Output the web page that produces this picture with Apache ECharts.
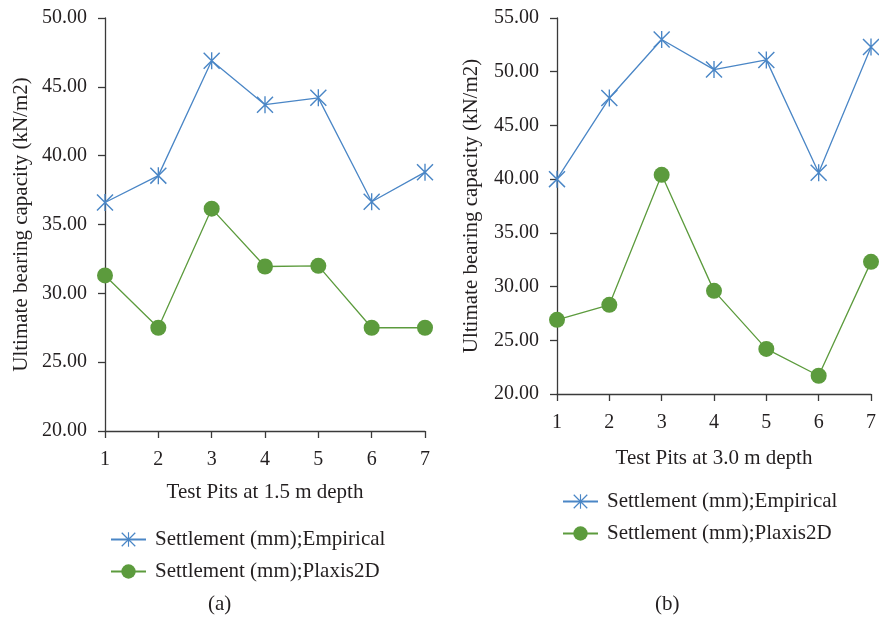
<!DOCTYPE html>
<html>
<head>
<meta charset="utf-8">
<script src="https://cdn.jsdelivr.net/npm/echarts@6/dist/echarts.min.js"></script>
<style>
  html, body { margin: 0; padding: 0; background: #ffffff; }
  #chart { width: 879px; height: 618px; }
</style>
</head>
<body>
<div id="chart"></div>
<script>
// Test pit numbers along the horizontal axis
const pits = ['1', '2', '3', '4', '5', '6', '7'];

// (a) pits at 1.5 m depth
const empiricalA = [36.6, 38.55, 46.9, 43.7, 44.2, 36.65, 38.8];
const plaxisA = [31.3, 27.5, 36.15, 31.95, 32.0, 27.5, 27.5];

// (b) pits at 3.0 m depth
const empiricalB = [40.0, 47.55, 53.0, 50.2, 51.1, 40.6, 52.3];
const plaxisB = [26.9, 28.3, 40.4, 29.6, 24.2, 21.7, 32.3];

// value-axis ranges and step
const yRangeA = [20, 50];
const yRangeB = [20, 55];
const yStep = 5;

const seriesNames = ['Settlement (mm);Empirical', 'Settlement (mm);Plaxis2D'];
const panelLabels = ['(a)', '(b)'];
const xTitles = ['Test Pits at 1.5 m depth', 'Test Pits at 3.0 m depth'];
const yTitle = 'Ultimate bearing capacity (kN/m2)';

const BLUE = '#4a86c6';
const GREEN = '#5c9b3d';
const INK = '#231f20';
const AXIS = '#3a3a3a';
const FONT = 'Liberation Serif';

// asterisk marker: vertical bar plus two diagonals
const STAR = 'path://M46 0H54V100H46Z M0 6L6 0L100 94L94 100Z M94 0L100 6L6 100L0 94Z';

function xAxisFor(gridIndex, title, gap) {
  return {
    type: 'category',
    gridIndex: gridIndex,
    data: pits,
    boundaryGap: false,
    name: title,
    nameLocation: 'middle',
    nameGap: gap,
    nameTextStyle: { fontFamily: FONT, fontSize: 21, color: INK },
    axisLine: { lineStyle: { color: AXIS, width: 1.3 } },
    axisTick: { length: 7, lineStyle: { color: AXIS, width: 1.3 } },
    axisLabel: { fontFamily: FONT, fontSize: 20, color: INK, margin: 19 },
    splitLine: { show: false }
  };
}

function yAxisFor(gridIndex, range, gap) {
  return {
    type: 'value',
    gridIndex: gridIndex,
    min: range[0],
    max: range[1],
    interval: yStep,
    name: yTitle,
    nameLocation: 'middle',
    nameRotate: 90,
    nameGap: gap,
    nameTextStyle: { fontFamily: FONT, fontSize: 21, color: INK },
    axisLine: { show: true, lineStyle: { color: AXIS, width: 1.3 } },
    axisTick: { show: true, length: 7, lineStyle: { color: AXIS, width: 1.3 } },
    axisLabel: {
      fontFamily: FONT, fontSize: 20, color: INK, margin: 18,
      formatter: v => v.toFixed(2)
    },
    splitLine: { show: false }
  };
}

function lineSeries(name, data, idx, color, symbol) {
  return {
    name: name,
    type: 'line',
    xAxisIndex: idx,
    yAxisIndex: idx,
    data: data,
    symbol: symbol,
    symbolSize: symbol === 'circle' ? 16 : 17,
    showAllSymbol: true,
    lineStyle: { color: color, width: 1.3 },
    itemStyle: { color: color },
    emphasis: { disabled: true },
    animation: false,
    z: symbol === 'circle' ? 3 : 4
  };
}

function legendFor(left, top) {
  return {
    orient: 'vertical',
    left: left,
    top: top,
    data: seriesNames,
    itemWidth: 35,
    itemHeight: 18,
    itemGap: 11,
    selectedMode: false,
    textStyle: {
      fontFamily: FONT, fontSize: 21, color: INK, lineHeight: 21,
      padding: [0, 0, 0, 4]
    }
  };
}

const chart = echarts.init(document.getElementById('chart'), null, { renderer: 'canvas' });

chart.setOption({
  backgroundColor: '#ffffff',
  animation: false,
  grid: [
    { left: 105, top: 18, width: 320, height: 413 },
    { left: 557, top: 18, width: 316, height: 376 }
  ],
  xAxis: [xAxisFor(0, xTitles[0], 51), xAxisFor(1, xTitles[1], 54)],
  yAxis: [yAxisFor(0, yRangeA, 73), yAxisFor(1, yRangeB, 75)],
  legend: [legendFor(105, 524), legendFor(557, 486)],
  series: [
    lineSeries(seriesNames[0], empiricalA, 0, BLUE, STAR),
    lineSeries(seriesNames[1], plaxisA, 0, GREEN, 'circle'),
    lineSeries(seriesNames[0], empiricalB, 1, BLUE, STAR),
    lineSeries(seriesNames[1], plaxisB, 1, GREEN, 'circle')
  ],
  graphic: [
    {
      type: 'text', left: 208, top: 594,
      style: { text: panelLabels[0], font: '21px "' + FONT + '"', fill: INK }
    },
    {
      type: 'text', left: 655, top: 594,
      style: { text: panelLabels[1], font: '21px "' + FONT + '"', fill: INK }
    }
  ]
});
</script>
</body>
</html>
